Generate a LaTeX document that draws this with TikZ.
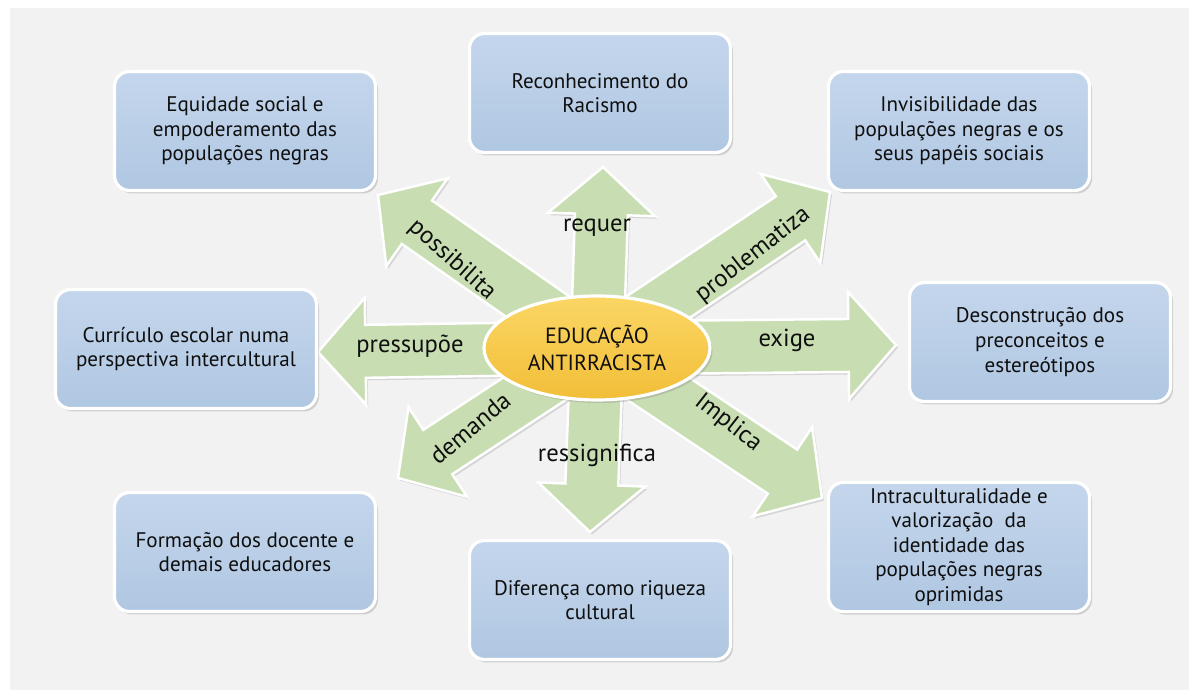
\documentclass[tikz,border=0pt]{standalone}
\usepackage{fontspec}
\setmainfont{PT Sans}
\usetikzlibrary{calc,shapes.geometric,shadows}

\definecolor{panelgray}{RGB}{242,242,242}
\definecolor{boxtop}{RGB}{196,214,236}
\definecolor{boxbot}{RGB}{176,199,226}
\definecolor{arwgreen}{RGB}{200,222,178}
\definecolor{ovtop}{RGB}{251,214,100}
\definecolor{ovbot}{RGB}{242,190,56}
\definecolor{txt}{RGB}{15,15,15}

% fat arrow from #1 to tip #2
\newcommand{\fatarrow}[2]{%
  \coordinate (hb) at ($(#2)!0.95cm!(#1)$);
  \draw [arw] ($(#1)!0.53cm!90:(#2)$) -- ($(hb)!0.53cm!90:(#2)$) -- ($(hb)!1.07cm!90:(#2)$)
    -- (#2) -- ($(hb)!1.07cm!-90:(#2)$) -- ($(hb)!0.53cm!-90:(#2)$) -- ($(#1)!0.53cm!-90:(#2)$) -- cycle;}

\begin{document}
\begin{tikzpicture}[
  box/.style={rectangle, rounded corners=0.3cm, draw=white, line width=1.8pt,
    top color=boxtop, bottom color=boxbot, minimum width=5.22cm, minimum height=2.38cm,
    align=center, text=txt, font=\fontsize{12}{14}\selectfont,
    drop shadow={opacity=0.3, shadow xshift=0.05cm, shadow yshift=-0.06cm}},
  arw/.style={fill=arwgreen, draw=white, line width=1.4pt,
    drop shadow={opacity=0.25, shadow xshift=0.04cm, shadow yshift=-0.05cm}},
  lbl/.style={text=txt, font=\fontsize{14}{16}\selectfont},
]
\useasboundingbox (0,0) rectangle (23.78,13.8);
\fill [panelgray] (0.2,0) rectangle (23.78,13.64);
%\draw [lightgray, dashed](0,0) grid (24,14);

\coordinate (O) at (11.94,6.84);

\coordinate (tN)  at (12.06,10.46);
\coordinate (tS)  at (11.80,3.16);
\coordinate (tE)  at (17.92,6.90);
\coordinate (tW)  at (6.36,6.76);
\coordinate (tNW) at (7.56,9.90);
\coordinate (tNE) at (16.60,9.96);
\coordinate (tSW) at (7.96,4.24);
\coordinate (tSE) at (16.44,3.84);

\fatarrow{O}{tN}
\fatarrow{O}{tS}
\fatarrow{O}{tE}
\fatarrow{O}{tW}
\fatarrow{O}{tNW}
\fatarrow{O}{tNE}
\fatarrow{O}{tSW}
\fatarrow{O}{tSE}

\node [ellipse, draw=white, line width=1.8pt, top color=ovtop, bottom color=ovbot,
  minimum width=4.52cm, minimum height=2.08cm, align=center, text=txt,
  font=\fontsize{12.5}{15}\selectfont,
  drop shadow={opacity=0.3, shadow xshift=0.05cm, shadow yshift=-0.06cm}]
  (EA) at (O) {EDUCAÇÃO\\ANTIRRACISTA};

\node [box] (EQ) at (4.90,11.18) {Equidade social e\\empoderamento das\\populações negras};
\node [box] (RR) at (12.00,11.94) {Reconhecimento do\\Racismo};
\node [box] (IV) at (19.18,11.18) {Invisibilidade das\\populações negras e os\\seus papéis sociais};
\node [box] (CE) at (3.72,6.82) {Currículo escolar numa\\perspectiva intercultural};
\node [box] (DP) at (20.80,6.96) {Desconstrução dos\\preconceitos e\\estereótipos};
\node [box] (FD) at (4.90,2.76) {Formação dos docente e\\demais educadores};
\node [box] (DR) at (12.00,1.80) {Diferença como riqueza\\cultural};
\node [box] (IN) at (19.18,2.86) {Intraculturalidade e\\valorização~ da\\identidade das\\populações negras\\oprimidas};

\node [lbl] (rq) at (11.94,9.24) {requer};
\node [lbl] (rs) at (11.94,4.70) {ressignifica};
\node [lbl] (pp) at (8.20,6.88) {pressupõe};
\node [lbl] (ex) at (15.74,7.00) {exige};
\node [lbl, rotate=-42] (ps) at (9.04,8.60) {possibilita};
\node [lbl, rotate=38]  (pb) at (15.06,8.70) {problematiza};
\node [lbl, rotate=40]  (dm) at (9.40,5.24) {demanda};
\node [lbl, rotate=-38] (im) at (14.56,5.34) {Implica};

\end{tikzpicture}
\end{document}
